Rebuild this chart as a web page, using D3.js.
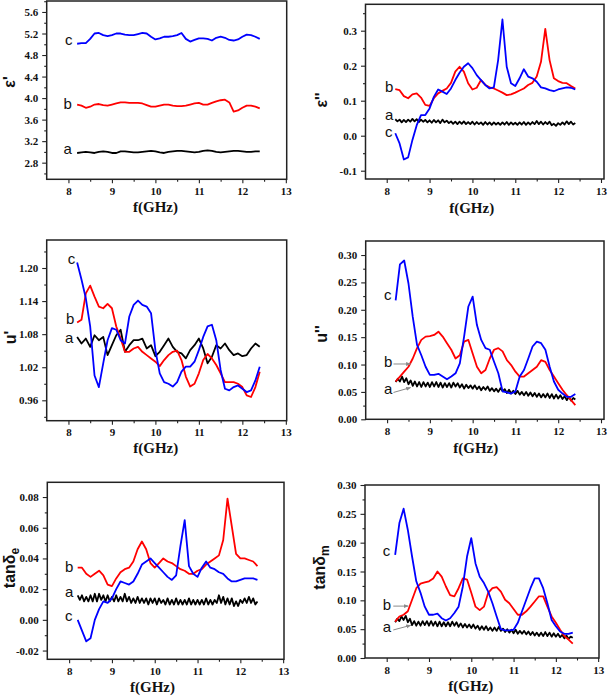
<!DOCTYPE html>
<html><head><meta charset="utf-8">
<script src="https://cdn.jsdelivr.net/npm/d3@7"></script>
<style>body{margin:0;background:#fff}svg{display:block}</style>
</head><body><svg id="c" width="609" height="696"></svg>
<script>
// ---------- DATA ----------
const freq = [8.2,8.3,8.4,8.5,8.6,8.7,8.8,8.9,9.0,9.1,9.2,9.3,9.4,9.5,9.6,9.7,9.8,9.9,10.0,10.1,10.2,10.3,10.4,10.5,10.6,10.7,10.8,10.9,11.0,11.1,11.2,11.3,11.4,11.5,11.6,11.7,11.8,11.9,12.0,12.1,12.2,12.3,12.4];
const freqFine = [8.2,8.25,8.3,8.35,8.4,8.45,8.5,8.55,8.6,8.65,8.7,8.75,8.8,8.85,8.9,8.95,
 9.0,9.05,9.1,9.15,9.2,9.25,9.3,9.35,9.4,9.45,9.5,9.55,9.6,9.65,9.7,9.75,9.8,9.85,9.9,9.95,
 10.0,10.05,10.1,10.15,10.2,10.25,10.3,10.35,10.4,10.45,10.5,10.55,10.6,10.65,10.7,10.75,10.8,10.85,10.9,10.95,
 11.0,11.05,11.1,11.15,11.2,11.25,11.3,11.35,11.4,11.45,11.5,11.55,11.6,11.65,11.7,11.75,11.8,11.85,11.9,11.95,
 12.0,12.05,12.1,12.15,12.2,12.25,12.3,12.35,12.4];

// epsilon' (real permittivity)
const epsRealA = [2.98,2.99,3.00,2.99,2.98,3.00,3.01,3.00,2.98,2.98, 3.01,3.01,3.00,2.99,2.99,3.00,3.01,3.02,3.01,2.99, 2.98,3.00,3.01,3.02,3.02,3.01,3.00,2.99,3.00,3.02, 3.03,3.02,3.00,2.99,3.00,3.01,3.02,3.02,3.01,3.00, 3.00,3.01,3.01];
const epsRealB = [3.88,3.86,3.82,3.84,3.88,3.89,3.87,3.86,3.88,3.90, 3.92,3.92,3.91,3.91,3.91,3.90,3.87,3.84,3.84,3.86, 3.88,3.88,3.86,3.85,3.85,3.86,3.88,3.90,3.91,3.88, 3.88,3.91,3.94,3.96,3.97,3.92,3.75,3.77,3.82,3.86, 3.86,3.84,3.81];
const epsRealC = [5.01,5.02,5.02,5.10,5.20,5.21,5.17,5.15,5.17,5.20, 5.20,5.18,5.17,5.17,5.19,5.21,5.20,5.14,5.09,5.11, 5.14,5.14,5.15,5.17,5.21,5.10,5.05,5.08,5.11,5.11, 5.10,5.07,5.12,5.14,5.12,5.08,5.07,5.09,5.14,5.18, 5.17,5.14,5.10];

// epsilon'' (imaginary permittivity)
const epsImagA = [0.047,0.041,0.046,0.038,0.045,0.039,0.046,0.040,0.048,0.041,0.047,0.039,0.046,0.040,0.045,0.038,
 0.044,0.037,0.045,0.038,0.044,0.036,0.046,0.038,0.043,0.036,0.041,0.034,0.040,0.033,0.040,0.034,0.041,0.033,0.039,0.033,
 0.040,0.032,0.039,0.033,0.038,0.031,0.039,0.032,0.038,0.031,0.038,0.032,0.037,0.031,0.038,0.032,0.039,0.031,0.038,0.032,
 0.037,0.031,0.038,0.032,0.039,0.031,0.038,0.032,0.039,0.033,0.042,0.033,0.040,0.032,0.039,0.033,0.040,0.030,0.034,0.028,
 0.036,0.031,0.038,0.032,0.041,0.033,0.040,0.032,0.036];
const epsImagB = [0.133,0.130,0.113,0.107,0.118,0.121,0.109,0.088,0.085,0.107, 0.121,0.128,0.135,0.151,0.183,0.197,0.183,0.150,0.132,0.137, 0.159,0.145,0.138,0.135,0.129,0.123,0.116,0.118,0.123,0.129, 0.135,0.145,0.151,0.169,0.211,0.305,0.216,0.164,0.156,0.151, 0.150,0.142,0.135];
const epsImagC = [0.007,-0.022,-0.068,-0.062,-0.012,0.030,0.059,0.059,0.078,0.111, 0.132,0.126,0.119,0.135,0.159,0.180,0.197,0.207,0.193,0.173, 0.159,0.145,0.135,0.138,0.216,0.332,0.197,0.150,0.142,0.164, 0.190,0.169,0.164,0.154,0.138,0.135,0.130,0.127,0.132,0.135, 0.138,0.137,0.132];

// mu' (real permeability)
const muRealA = [1.075,1.063,1.072,1.057,1.078,1.069,1.075,1.042,1.060,1.078, 1.088,1.048,1.060,1.069,1.069,1.072,1.054,1.060,1.040,1.048, 1.060,1.072,1.057,1.048,1.045,1.036,1.051,1.060,1.072,1.054, 1.027,1.039,1.060,1.054,1.063,1.051,1.042,1.045,1.040,1.042, 1.054,1.063,1.057];
const muRealB = [1.101,1.106,1.154,1.168,1.148,1.130,1.127,1.135,1.127,1.094, 1.072,1.048,1.048,1.054,1.057,1.048,1.042,1.036,1.030,1.022, 1.033,1.042,1.048,1.050,1.033,1.003,0.985,0.990,1.009,1.033, 1.044,1.036,1.024,1.009,0.993,0.993,0.993,0.990,0.984,0.969, 0.966,0.984,1.012];
const muRealC = [1.210,1.179,1.145,1.094,1.005,0.984,1.027,1.069,1.091,1.088, 1.069,1.063,1.112,1.133,1.141,1.133,1.130,1.118,1.051,1.009, 0.993,0.990,0.985,0.993,1.012,1.021,1.021,1.030,1.051,1.075, 1.094,1.097,1.069,1.015,0.981,0.978,0.984,0.987,0.981,0.975, 0.978,0.996,1.021];

// mu'' (imaginary permeability)
const muImagA = [0.068,0.074,0.069,0.078,0.068,0.075,0.064,0.071,0.061,0.069,0.060,0.068,0.059,0.068,0.060,0.067,
 0.059,0.068,0.060,0.068,0.059,0.067,0.058,0.066,0.059,0.066,0.058,0.067,0.060,0.066,0.058,0.064,0.056,0.063,0.057,0.062,
 0.056,0.062,0.055,0.060,0.053,0.059,0.054,0.060,0.052,0.057,0.051,0.056,0.050,0.057,0.051,0.055,0.048,0.054,0.047,0.052,
 0.046,0.052,0.045,0.050,0.044,0.050,0.043,0.049,0.042,0.048,0.041,0.047,0.040,0.046,0.040,0.047,0.039,0.046,0.038,0.045,
 0.038,0.044,0.037,0.042,0.035,0.041,0.034,0.039,0.036];
const muImagB = [0.069,0.078,0.087,0.096,0.111,0.130,0.145,0.151,0.152,0.154, 0.160,0.151,0.139,0.127,0.111,0.117,0.142,0.145,0.120,0.096, 0.084,0.090,0.111,0.127,0.130,0.124,0.108,0.099,0.087,0.078, 0.078,0.084,0.090,0.096,0.108,0.105,0.090,0.078,0.066,0.054, 0.044,0.035,0.026];
const muImagC = [0.217,0.283,0.290,0.248,0.187,0.136,0.117,0.096,0.081,0.081, 0.083,0.078,0.073,0.078,0.084,0.102,0.151,0.206,0.224,0.172, 0.145,0.130,0.127,0.105,0.084,0.051,0.049,0.047,0.051,0.078, 0.090,0.111,0.133,0.142,0.139,0.127,0.096,0.069,0.054,0.047, 0.041,0.041,0.046];

// tan delta_e (dielectric loss tangent)
const tanEA = [0.016,0.013,0.016,0.012,0.015,0.012,0.016,0.012,0.017,0.012,0.017,0.013,0.016,0.012,0.016,0.012,
 0.015,0.012,0.016,0.012,0.015,0.012,0.017,0.012,0.015,0.011,0.014,0.011,0.015,0.011,0.014,0.011,0.014,0.010,0.014,0.011,
 0.014,0.010,0.014,0.011,0.013,0.010,0.014,0.010,0.013,0.010,0.014,0.010,0.013,0.010,0.013,0.010,0.014,0.010,0.013,0.010,
 0.013,0.010,0.013,0.010,0.014,0.010,0.013,0.010,0.013,0.011,0.016,0.011,0.015,0.010,0.014,0.010,0.014,0.009,0.012,0.009,
 0.013,0.011,0.014,0.011,0.015,0.011,0.014,0.010,0.012];
const tanEB = [0.034,0.034,0.030,0.028,0.030,0.032,0.029,0.023,0.022,0.027, 0.031,0.033,0.034,0.038,0.046,0.051,0.046,0.037,0.034,0.037, 0.040,0.038,0.037,0.035,0.033,0.032,0.030,0.030,0.032,0.033, 0.036,0.038,0.040,0.042,0.052,0.079,0.061,0.043,0.040,0.040, 0.039,0.038,0.035];
const tanEC = [0.000,-0.007,-0.014,-0.012,0.000,0.007,0.012,0.011,0.014,0.020, 0.025,0.024,0.023,0.025,0.030,0.036,0.038,0.040,0.037,0.034, 0.031,0.028,0.026,0.029,0.048,0.065,0.035,0.030,0.028,0.034, 0.038,0.034,0.033,0.031,0.030,0.027,0.025,0.025,0.026,0.027, 0.027,0.027,0.026];

// tan delta_m (magnetic loss tangent)
const tanMA = [0.062,0.068,0.064,0.072,0.066,0.073,0.062,0.068,0.057,0.064,0.056,0.063,0.056,0.064,0.057,0.064,
 0.056,0.064,0.056,0.063,0.055,0.063,0.055,0.062,0.055,0.062,0.055,0.063,0.056,0.062,0.054,0.060,0.053,0.059,0.053,0.058,
 0.052,0.058,0.051,0.056,0.049,0.055,0.049,0.055,0.048,0.053,0.047,0.053,0.047,0.054,0.047,0.051,0.045,0.050,0.044,0.049,
 0.043,0.049,0.042,0.047,0.042,0.047,0.041,0.046,0.040,0.045,0.039,0.044,0.038,0.044,0.038,0.045,0.038,0.044,0.037,0.043,
 0.037,0.042,0.036,0.040,0.034,0.039,0.033,0.037,0.035];
const tanMB = [0.063,0.072,0.075,0.081,0.101,0.121,0.129,0.131,0.133,0.138, 0.150,0.141,0.124,0.109,0.107,0.121,0.138,0.136,0.113,0.089, 0.083,0.089,0.113,0.121,0.123,0.115,0.101,0.095,0.085,0.075, 0.075,0.081,0.089,0.098,0.107,0.107,0.089,0.072,0.061,0.049, 0.038,0.032,0.025];
const tanMC = [0.179,0.234,0.259,0.222,0.176,0.133,0.113,0.089,0.075,0.075, 0.077,0.069,0.065,0.069,0.078,0.089,0.124,0.176,0.208,0.164, 0.141,0.130,0.115,0.095,0.072,0.050,0.048,0.048,0.049,0.061, 0.081,0.101,0.121,0.138,0.138,0.121,0.095,0.066,0.055,0.046, 0.042,0.042,0.044];

// ticks
const xMajor = [8,9,10,11,12,13];
const xMinor = [8.5,9.5,10.5,11.5,12.5];
const yMajor1 = [2.8,3.2,3.6,4.0,4.4,4.8,5.2,5.6], yMinor1 = [2.6,3.0,3.4,3.8,4.2,4.6,5.0,5.4,5.8];
const yMajor2 = [-0.1,0,0.1,0.2,0.3], yMinor2 = [-0.05,0.05,0.15,0.25,0.35];
const yMajor3 = [0.96,1.02,1.08,1.14,1.20], yMinor3 = [0.93,0.99,1.05,1.11,1.17,1.23];
const yMajor4 = [0,0.05,0.10,0.15,0.20,0.25,0.30], yMinor4 = [0.025,0.075,0.125,0.175,0.225,0.275];
const yMajor5 = [-0.02,0,0.02,0.04,0.06,0.08], yMinor5 = [-0.01,0.01,0.03,0.05,0.07];
const yMajor6 = [0,0.05,0.10,0.15,0.20,0.25,0.30], yMinor6 = [0.025,0.075,0.125,0.175,0.225,0.275];

const xTitle = "f(GHz)";
const seriesNames = ["a","b","c"];
const colors = {a:"#000000", b:"#ff0000", c:"#0000ff"};

// ---------- LAYOUT ----------
const panels = [
 {l:46.7,r:286.7,t:1,b:179.3, xd:[7.5,13.02], yd:[2.491,5.804], yMaj:yMajor1, yMin:yMinor1, fmt:".1f",
  ylab:["ε'"], yl:{x:15,y:82}, xl:{x:155.5,y:212},
  data:{a:[freq,epsRealA], b:[freq,epsRealB], c:[freq,epsRealC]},
  lab:{c:[65,44.5], b:[63.5,108.5], a:[63.5,154]}},
 {l:365.5,r:604,t:4.3,b:179, xd:[7.505,13.07], yd:[-0.1237,0.3754], yMaj:yMajor2, yMin:yMinor2, fmt:".1f",
  ylab:["ε''"], yl:{x:326.7,y:100}, xl:{x:471.7,y:213},
  data:{a:[freqFine,epsImagA], b:[freq,epsImagB], c:[freq,epsImagC]},
  lab:{b:[385,91.7], a:[385,120], c:[385,136.7]}},
 {l:46.7,r:286.7,t:240,b:420.7, xd:[7.5,13.02], yd:[0.923,1.2508], yMaj:yMajor3, yMin:yMinor3, fmt:".2f",
  ylab:["u'"], yl:{x:16,y:337.5}, xl:{x:155.8,y:453},
  data:{a:[freq,muRealA], b:[freq,muRealB], c:[freq,muRealC]},
  lab:{c:[67.7,264.3], b:[66,324], a:[65,343.3]}},
 {l:365.7,r:604,t:241,b:419.3, xd:[7.5,13.07], yd:[0,0.3256], yMaj:yMajor4, yMin:yMinor4, fmt:".2f",
  ylab:["u''"], yl:{x:327,y:334}, xl:{x:475.8,y:453},
  data:{a:[freqFine,muImagA], b:[freq,muImagB], c:[freq,muImagC]},
  lab:{c:[384,300], b:[384,367.3], a:[384,394]},
  arrows:[[[8.15,0.101],[8.55,0.101]],[[8.15,0.049],[8.55,0.058]]]},
 {l:47.3,r:284,t:482.3,b:659.3, xd:[7.49,13.02], yd:[-0.0257,0.0896], yMaj:yMajor5, yMin:yMinor5, fmt:".2f",
  ylab:["tanδ","e"], yl:{x:14.5,y:568}, xl:{x:152.5,y:692},
  data:{a:[freqFine,tanEA], b:[freq,tanEB], c:[freq,tanEC]},
  lab:{b:[65,571.7], a:[65,596.7], c:[65,620.7]}},
 {l:365,r:599,t:485,b:658, xd:[7.487,13.02], yd:[0,0.3], yMaj:yMajor6, yMin:yMinor6, fmt:".2f",
  ylab:["tanδ","m"], yl:{x:325,y:567.5}, xl:{x:470.8,y:691},
  data:{a:[freqFine,tanMA], b:[freq,tanMB], c:[freq,tanMC]},
  lab:{c:[382.7,555.7], b:[382.7,610], a:[382.7,631.7]},
  arrows:[[[8.156,0.090],[8.51,0.090]],[[8.156,0.0486],[8.567,0.0567]]]}
];

const svg = d3.select("#c");
const defs = svg.append("defs");
defs.append("marker").attr("id","ah").attr("viewBox","0 0 10 10").attr("refX",9).attr("refY",5)
  .attr("markerWidth",5).attr("markerHeight",5).attr("orient","auto")
  .append("path").attr("d","M0,1 L10,5 L0,9 z").attr("fill","#8a8a8a");

const tickFont = "Liberation Serif, Times New Roman, serif";
const sansFont = "Liberation Sans, Arial, sans-serif";

panels.forEach(p => {
  const x = d3.scaleLinear().domain(p.xd).range([p.l, p.r]);
  const y = d3.scaleLinear().domain(p.yd).range([p.b, p.t]);
  const g = svg.append("g");
  const fmt = v => d3.format(p.fmt)(v).replace("−","-");

  const styleAxis = sel => {
    sel.select(".domain").remove();
    sel.selectAll("line").attr("stroke","#222").attr("stroke-width",1.1);
    sel.selectAll("text").attr("font-family",tickFont).attr("font-weight","bold")
      .attr("font-size",11).attr("fill","#111");
  };
  g.append("g").attr("transform",`translate(${p.l},0)`)
    .call(d3.axisLeft(y).tickValues(p.yMin).tickSize(2.5).tickFormat("")).call(styleAxis);
  g.append("g").attr("transform",`translate(${p.l},0)`)
    .call(d3.axisLeft(y).tickValues(p.yMaj).tickSize(4.5).tickPadding(4).tickFormat(fmt)).call(styleAxis);
  g.append("g").attr("transform",`translate(0,${p.b})`)
    .call(d3.axisBottom(x).tickValues(xMinor).tickSize(2.5).tickFormat("")).call(styleAxis);
  g.append("g").attr("transform",`translate(0,${p.b})`)
    .call(d3.axisBottom(x).tickValues(xMajor).tickSize(4).tickPadding(4).tickFormat(d3.format("d"))).call(styleAxis);

  // series
  const line = (xs) => d3.line().x((d,i)=>x(xs[i])).y(d=>y(d));
  seriesNames.forEach(k => {
    const [xs, vs] = p.data[k];
    g.append("path").datum(vs).attr("d", line(xs)).attr("fill","none")
      .attr("stroke", colors[k]).attr("stroke-width",1.8).attr("stroke-linejoin","round");
  });

  // frame
  g.append("rect").attr("x",p.l).attr("y",p.t).attr("width",p.r-p.l).attr("height",p.b-p.t)
    .attr("fill","none").attr("stroke","#222").attr("stroke-width",1.5);

  // series labels
  seriesNames.forEach(k => {
    const [lx, ly] = p.lab[k];
    g.append("text").attr("x",lx).attr("y",ly).text(k)
      .attr("font-family",sansFont).attr("font-size",15).attr("fill","#111");
  });

  // leader arrows
  (p.arrows||[]).forEach(a => {
    g.append("line").attr("x1",x(a[0][0])).attr("y1",y(a[0][1])).attr("x2",x(a[1][0])).attr("y2",y(a[1][1]))
      .attr("stroke","#8a8a8a").attr("stroke-width",1).attr("marker-end","url(#ah)");
  });

  // x title
  g.append("text").attr("x",p.xl.x).attr("y",p.xl.y).attr("text-anchor","middle")
    .attr("font-family",tickFont).attr("font-weight","bold").attr("font-size",15).attr("fill","#111").text(xTitle);

  // y title
  const yt = g.append("text").attr("transform",`translate(${p.yl.x},${p.yl.y}) rotate(-90)`)
    .attr("text-anchor","middle").attr("font-family",sansFont).attr("font-weight","bold")
    .attr("font-size",16).attr("fill","#111");
  yt.append("tspan").text(p.ylab[0]);
  if (p.ylab[1]) yt.append("tspan").attr("dy",4).attr("font-size",12).text(p.ylab[1]);
});
</script></body></html>
